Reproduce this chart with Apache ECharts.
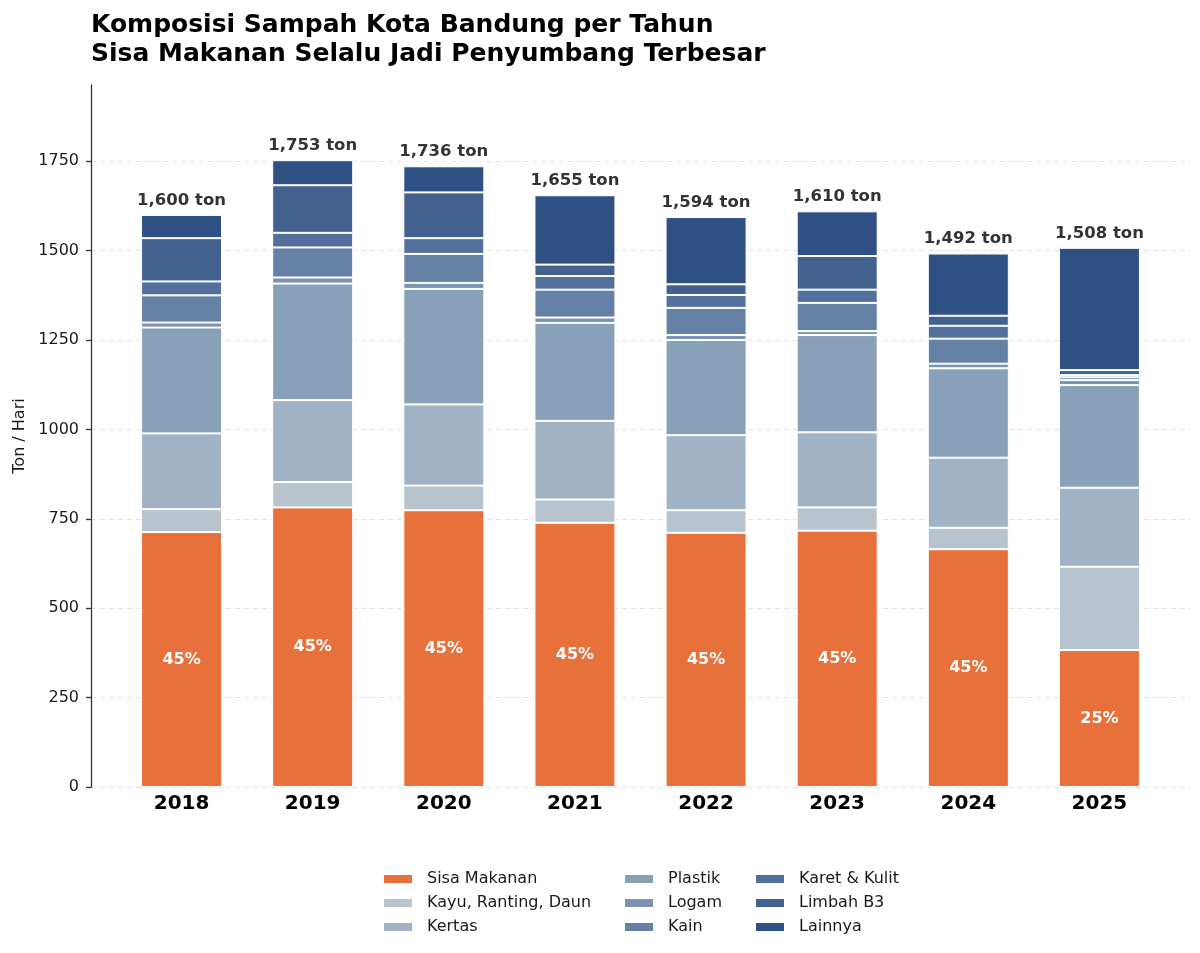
<!DOCTYPE html>
<html>
<head>
<meta charset="utf-8">
<script src="https://cdn.jsdelivr.net/npm/echarts@6/dist/echarts.min.js"></script>
<style>
  html, body { margin: 0; padding: 0; background: #fff; }
  #chart { width: 1200px; height: 953px; }
</style>
</head>
<body>
<div id="chart"></div>
<script>
var years = ['2018', '2019', '2020', '2021', '2022', '2023', '2024', '2025'];

// ton per hari (bottom to top)
var sisaMakanan = [713, 782, 774, 739, 711, 717, 665, 383];
var kayu = [64, 71, 69, 65, 63, 65, 60, 233];
var kertas = [212, 229, 227, 220, 210, 210, 196, 221];
var plastik = [296, 326, 323, 274, 266, 272, 250, 287];
var logam = [14, 17, 17, 15, 14, 11, 13, 14];
var kain = [76, 84, 81, 78, 76, 79, 70, 8];
var karet = [39, 41, 44, 38, 36, 37, 36, 6];
var limbahB3 = [121, 133, 128, 32, 30, 94, 28, 14];
var lainnya = [65, 70, 73, 194, 188, 125, 174, 342];

var yTicks = [0, 250, 500, 750, 1000, 1250, 1500, 1750];

var groups = [
  { name: 'Sisa Makanan', data: sisaMakanan, color: '#E8703A' },
  { name: 'Kayu, Ranting, Daun', data: kayu, color: '#B7C4CD' },
  { name: 'Kertas', data: kertas, color: '#A1B2C4' },
  { name: 'Plastik', data: plastik, color: '#88A1B9' },
  { name: 'Logam', data: logam, color: '#7B92B0' },
  { name: 'Kain', data: kain, color: '#6480A5' },
  { name: 'Karet & Kulit', data: karet, color: '#52709C' },
  { name: 'Limbah B3', data: limbahB3, color: '#42618F' },
  { name: 'Lainnya', data: lainnya, color: '#2E5083' }
];

var totals = years.map(function (y, i) {
  return groups.reduce(function (s, g) { return s + g.data[i]; }, 0);
});
var yMax = Math.max.apply(null, totals) * 1.12;

var chart = echarts.init(document.getElementById('chart'));
var font = 'DejaVu Sans';

var series = groups.map(function (g, k) {
  var s = {
    name: g.name,
    type: 'bar',
    stack: 'total',
    xAxisIndex: 0,
    yAxisIndex: 0,
    barWidth: 81,
    data: g.data,
    itemStyle: { color: g.color, borderColor: '#fff', borderWidth: 1 },
    emphasis: { disabled: true }
  };
  if (k === 0) {
    s.label = {
      show: true,
      position: 'inside',
      color: '#fff',
      fontFamily: font,
      fontWeight: 'bold',
      fontSize: 16,
      formatter: function (p) {
        return Math.round(p.value / totals[p.dataIndex] * 100) + '%';
      }
    };
  }
  if (k === groups.length - 1) {
    s.label = {
      show: true,
      position: 'top',
      distance: 6,
      color: '#333',
      fontFamily: font,
      fontWeight: 'bold',
      fontSize: 16.5,
      formatter: function (p) {
        return totals[p.dataIndex].toLocaleString('en-US') + ' ton';
      }
    };
  }
  return s;
});

function legendCol(left, names) {
  return {
    orient: 'vertical',
    left: left,
    top: 866,
    icon: 'rect',
    itemWidth: 30,
    itemHeight: 10,
    itemGap: 8,
    data: names,
    textStyle: { fontFamily: font, fontSize: 16, color: '#1a1a1a', padding: [0, 0, 0, 9] }
  };
}

// one grey line per tick, the last one (at the axis top) left out
var gridColors = yTicks.map(function () { return '#e3e3e3'; }).concat(['rgba(0,0,0,0)']);

var option = {
  backgroundColor: '#fff',
  animation: false,
  title: {
    text: 'Komposisi Sampah Kota Bandung per Tahun\nSisa Makanan Selalu Jadi Penyumbang Terbesar',
    left: 86,
    top: 6,
    textStyle: { fontFamily: font, fontSize: 25, fontWeight: 'bold', color: '#000', lineHeight: 29 }
  },
  legend: [
    legendCol(377, ['Sisa Makanan', 'Kayu, Ranting, Daun', 'Kertas']),
    legendCol(618, ['Plastik', 'Logam', 'Kain']),
    legendCol(749, ['Karet & Kulit', 'Limbah B3', 'Lainnya'])
  ],
  grid: [
    { left: 116, right: 35, top: 85, bottom: 166 },
    { left: 91, right: 10, top: 85, bottom: 166 }
  ],
  xAxis: [
    {
      type: 'category',
      gridIndex: 0,
      data: years,
      axisLine: { show: false },
      axisTick: { show: false },
      axisLabel: { margin: 7, fontFamily: font, fontSize: 20, fontWeight: 'bold', color: '#000' }
    },
    { type: 'value', gridIndex: 1, min: 0, max: 1, show: false }
  ],
  yAxis: [
    { type: 'value', gridIndex: 0, min: 0, max: yMax, show: false },
    {
      type: 'value',
      gridIndex: 1,
      min: 0,
      max: yMax,
      interval: 250,
      name: 'Ton / Hari',
      nameLocation: 'middle',
      nameGap: 62,
      nameTextStyle: { fontFamily: font, fontSize: 16, color: '#1a1a1a' },
      axisLine: { show: true, lineStyle: { color: '#333', width: 1.3 } },
      axisTick: { show: true, length: 5, lineStyle: { color: '#333', width: 1.3 } },
      axisLabel: {
        margin: 12,
        fontFamily: font,
        fontSize: 16,
        color: '#1a1a1a',
        showMaxLabel: false,
        formatter: function (v) { return yTicks.indexOf(v) >= 0 ? String(v) : ''; }
      },
      splitLine: { show: true, lineStyle: { color: gridColors, type: [5, 4], width: 1 } }
    }
  ],
  series: series
};

chart.setOption(option);
</script>
</body>
</html>
